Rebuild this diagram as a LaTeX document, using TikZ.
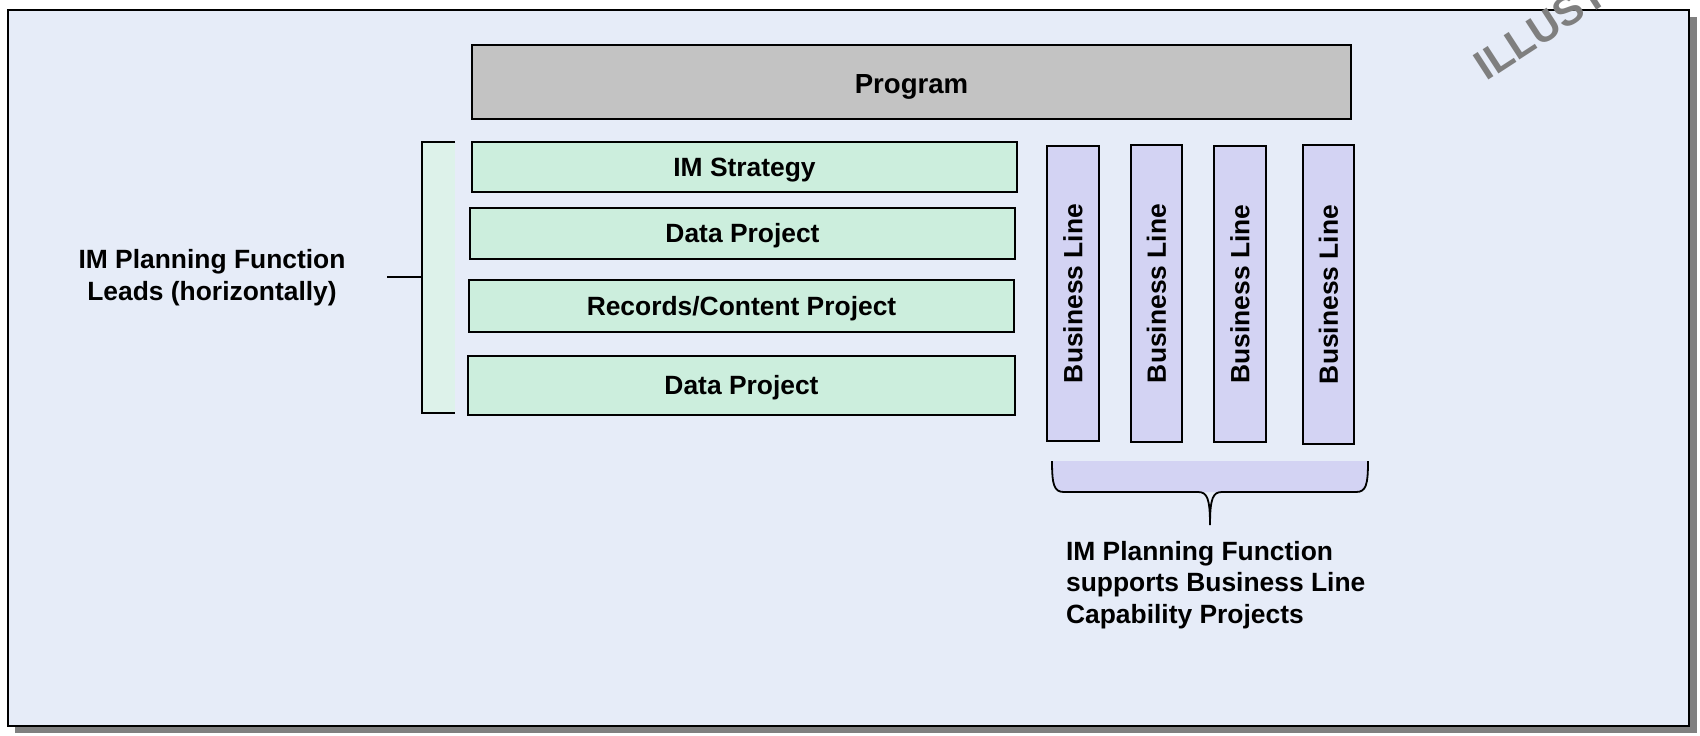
\documentclass[tikz,border=0pt]{standalone}
\usepackage{fontspec}
\setmainfont{Liberation Sans}
\definecolor{bgblue}{HTML}{E6ECF8}
\definecolor{shadowgray}{HTML}{808080}
\definecolor{boxgreen}{HTML}{CCEEDD}
\definecolor{brackgreen}{HTML}{DDF2EA}
\definecolor{blpurple}{HTML}{D3D3F3}
\definecolor{proggray}{HTML}{C3C3C3}
\definecolor{wmgray}{HTML}{7F7F7F}
\tikzset{
  lbl/.style={font=\bfseries\fontsize{13.2}{15.6}\selectfont, text=black},
  progbox/.style={draw=black, line width=1pt, fill=proggray, inner sep=0pt, outer sep=0pt,
    font=\bfseries\fontsize{13.8}{16}\selectfont, text height=11.3pt, text depth=0pt},
  gbox/.style={draw=black, line width=1pt, fill=boxgreen, inner sep=0pt, outer sep=0pt, lbl,
    text height=9.3pt, text depth=0pt},
  blbox/.style={draw=black, line width=1pt, fill=blpurple, inner sep=0pt, outer sep=0pt, lbl, rotate=90},
  conn/.style={draw=black, line width=1pt},
}
\begin{document}
\begin{tikzpicture}[x=0.5pt,y=-0.5pt]
\clip (0,0) rectangle (1700,735);
\useasboundingbox (0,0) rectangle (1700,735);
\fill[white] (0,0) rectangle (1700,735);
% frame
\fill[shadowgray] (15,17) rectangle (1697,733);
\draw[line width=1pt, fill=bgblue] (8,10) rectangle (1689,726);
% program
\node[progbox, minimum width=439.5pt, minimum height=37pt] (prog) at (911.5,82) {Program};
% green bracket
\fill[brackgreen] (422,142) rectangle (455,413);
\coordinate (brtop) at (455,142);
\coordinate (brtl) at (422,142);
\coordinate (brbl) at (422,413);
\coordinate (brbot) at (455,413);
\coordinate (brmid) at (422,277);
\coordinate (tick) at (387,277);
\draw[conn] (brtop) -- (brtl) -- (brbl) -- (brbot);
\draw[conn] (tick) -- (brmid);
% green boxes
\node[gbox, minimum width=272.5pt, minimum height=25pt] (ims) at (744.5,167) {IM Strategy};
\node[gbox, minimum width=272.5pt, minimum height=25.5pt] (dp1) at (742.5,233.5) {Data Project};
\node[gbox, minimum width=272.5pt, minimum height=26pt] (rec) at (741.5,306) {Records/Content Project};
\node[gbox, minimum width=273.5pt, minimum height=29.5pt] (dp2) at (741.5,385.5) {Data Project};
% business lines
\node[blbox, minimum width=147.5pt, minimum height=26pt] (bl1) at (1073,293.5) {Business Line};
\node[blbox, minimum width=148.5pt, minimum height=25.5pt] (bl2) at (1156.5,293.5) {Business Line};
\node[blbox, minimum width=148pt, minimum height=26pt] (bl3) at (1240,294) {Business Line};
\node[blbox, minimum width=149.5pt, minimum height=25.5pt] (bl4) at (1328.5,294.5) {Business Line};
% brace
\fill[blpurple] (1052,461) .. controls (1052,485) and (1054,492) .. (1064,492) -- (1356,492) .. controls (1366,492) and (1368,485) .. (1368,461) -- cycle;
\coordinate (bra) at (1052,461);
\coordinate (brb) at (1368,461);
\coordinate (brtip) at (1210,525);
\draw[line width=0.9pt] (bra) .. controls (1052,485) and (1054,492) .. (1064,492) -- (1198,492) .. controls (1207,492) and (1210,498) .. (brtip) .. controls (1210,498) and (1213,492) .. (1222,492) -- (1356,492) .. controls (1366,492) and (1368,485) .. (brb);
% labels
\node[lbl, align=center, anchor=base] (leftlbl) at (212,300) {IM Planning Function\\Leads (horizontally)};
\node[lbl, align=left, anchor=base west] (rightlbl) at (1059,623) {IM Planning Function\\supports Business Line\\Capability Projects};
% watermark
\node[font=\bfseries\fontsize{21}{21}\selectfont, text=wmgray, rotate=33, anchor=base west, inner sep=0pt] (wm) at (1486,82) {ILLUSTRATIVE};
\end{tikzpicture}
\end{document}
